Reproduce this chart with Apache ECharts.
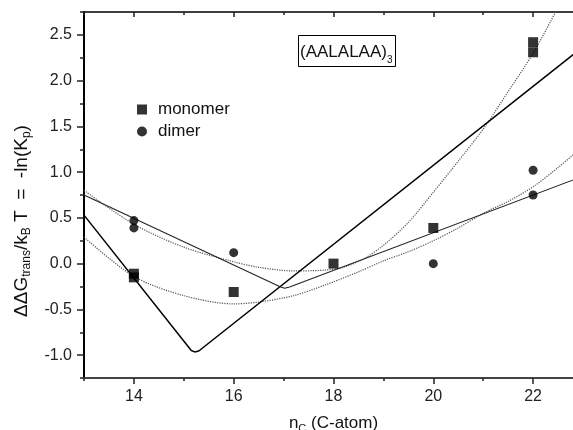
<!DOCTYPE html>
<html>
<head>
<meta charset="utf-8">
<script src="https://cdn.jsdelivr.net/npm/echarts@6.0.0/dist/echarts.min.js"></script>
<style>
  html, body { margin: 0; padding: 0; background: #fff; }
  #chart { width: 573px; height: 430px; }
</style>
</head>
<body>
<div id="chart"></div>
<script>
  // measured points
  var monoX = [14, 14, 16, 18, 20, 22, 22];
  var monoY = [-0.11, -0.15, -0.31, 0.0, 0.39, 2.42, 2.31];
  var dimerX = [14, 14, 16, 20, 22, 22];
  var dimerY = [0.47, 0.39, 0.12, 0.0, 1.02, 0.75];

  // solid V-shaped fits
  var monoFitX = [13, 15.15, 15.22, 15.3, 23];
  var monoFitY = [0.53, -0.95, -0.965, -0.955, 2.37];
  var dimerFitX = [13, 16.92, 17.02, 17.12, 23];
  var dimerFitY = [0.75, -0.25, -0.27, -0.255, 0.955];

  // dotted fits
  var curveAX = [13, 14, 15, 16, 16.5, 17.2, 17.85, 18.2, 18.6, 19, 19.5, 20, 20.5, 21, 21.5, 22, 22.5, 22.8];
  var curveAY = [0.80, 0.43, 0.18, 0.02, -0.04, -0.08, -0.07, -0.04, 0.05, 0.20, 0.45, 0.78, 1.12, 1.47, 1.88, 2.30, 2.80, 3.10];
  var curveBX = [13, 14, 15, 16, 16.5, 17.2, 17.85, 18.5, 19, 19.5, 20, 20.5, 21, 21.5, 22, 22.5, 23];
  var curveBY = [0.29, -0.14, -0.35, -0.44, -0.42, -0.35, -0.23, -0.09, 0.03, 0.13, 0.25, 0.39, 0.55, 0.68, 0.84, 1.05, 1.28];

  // ticks
  var xMajor = [14, 16, 18, 20, 22];
  var xMinor = [13, 15, 17, 19, 21, 23];
  var yMajor = [-1.0, -0.5, 0.0, 0.5, 1.0, 1.5, 2.0, 2.5];
  var yMinor = [-1.25, -0.75, -0.25, 0.25, 0.75, 1.25, 1.75, 2.25, 2.75];

  function pairs(xs, ys) {
    return xs.map(function (x, i) { return [x, ys[i]]; });
  }

  var FONT = 'Liberation Sans, Arial, sans-serif';
  var myChart = echarts.init(document.getElementById('chart'));

  function xAxisDef(pos, ticks, len, inside, showLine, showLabel) {
    return {
      type: 'value', position: pos, min: 13, max: 23,
      axisLine: { show: showLine, onZero: false, lineStyle: { color: pos === 'bottom' ? '#444' : '#000', width: pos === 'bottom' ? 2 : 1.5 } },
      axisTick: { show: true, inside: inside, length: len, customValues: ticks, lineStyle: { color: '#222', width: 1.5 } },
      axisLabel: showLabel
        ? { show: true, customValues: ticks, fontSize: 16, color: '#222', fontFamily: FONT, margin: 11 }
        : { show: false },
      splitLine: { show: false },
      name: pos === 'bottom' && showLabel ? 'n{sub|C} (C-atom)' : '',
      nameLocation: 'middle',
      nameGap: 35,
      nameTextStyle: {
        fontSize: 17, color: '#111', fontFamily: FONT,
        rich: { sub: { fontSize: 11, fontFamily: FONT, color: '#111', padding: [10, 0, 0, 0] } }
      }
    };
  }

  function yAxisDef(ticks, len, showLine, showLabel) {
    return {
      type: 'value', position: 'left', min: -1.25, max: 2.75,
      axisLine: { show: showLine, onZero: false, lineStyle: { color: '#000', width: 2 } },
      axisTick: { show: true, inside: false, length: len, customValues: ticks, lineStyle: { color: '#222', width: 1.5 } },
      axisLabel: showLabel
        ? { show: true, customValues: ticks, fontSize: 16, color: '#222', fontFamily: FONT, margin: 12,
            formatter: function (v) { return v.toFixed(1); } }
        : { show: false },
      splitLine: { show: false }
    };
  }

  myChart.setOption({
    animation: false,
    backgroundColor: '#fff',
    grid: { left: 84, top: 12, right: -10, bottom: 52, outerBoundsMode: 'none', containLabel: false },
    title: {
      text: '(AALALAA){s|3}',
      left: 298, top: 35,
      padding: [4, 3, 2, 2],
      borderColor: '#000', borderWidth: 1,
      textStyle: {
        fontSize: 17, fontWeight: 'normal', color: '#111', fontFamily: FONT, lineHeight: 26,
        rich: { s: { fontSize: 10, fontFamily: FONT, color: '#111', lineHeight: 12, verticalAlign: 'bottom' } }
      }
    },
    legend: {
      orient: 'vertical', left: 132, top: 96,
      itemWidth: 10, itemHeight: 10, itemGap: 5,
      textStyle: { fontSize: 17, color: '#111', fontFamily: FONT, padding: [0, 0, 0, 6] },
      data: [{ name: 'monomer', icon: 'rect' }, { name: 'dimer', icon: 'circle' }]
    },
    graphic: [{
      type: 'text', x: 22, y: 221, rotation: Math.PI / 2,
      style: {
        text: 'ΔΔG{sub|trans}/k{sub|B} T  =  -ln(K{sub|p})',
        fontSize: 19, fontFamily: FONT, fill: '#111',
        align: 'center', verticalAlign: 'middle',
        rich: { sub: { fontSize: 12, fontFamily: FONT, fill: '#111', padding: [10, 0, 0, 0] } }
      }
    }],
    xAxis: [
      xAxisDef('bottom', xMajor, 6, false, true, true),
      xAxisDef('bottom', xMinor, 3, false, false, false),
      xAxisDef('top', xMajor, 5, true, true, false),
      xAxisDef('top', xMinor, 3, true, false, false)
    ],
    yAxis: [
      yAxisDef(yMajor, 7, true, true),
      yAxisDef(yMinor, 4, false, false)
    ],
    series: [
      {
        name: 'monomer fit', type: 'line', data: pairs(monoFitX, monoFitY),
        showSymbol: false, lineStyle: { color: '#000', width: 1.5 }, z: 2
      },
      {
        name: 'dimer fit', type: 'line', data: pairs(dimerFitX, dimerFitY),
        showSymbol: false, lineStyle: { color: '#222', width: 1.1 }, z: 2
      },
      {
        name: 'curve A', type: 'line', data: pairs(curveAX, curveAY), smooth: 0.3,
        showSymbol: false, lineStyle: { color: '#555', width: 1.2, type: 'dotted' }, z: 1
      },
      {
        name: 'curve B', type: 'line', data: pairs(curveBX, curveBY), smooth: 0.3,
        showSymbol: false, lineStyle: { color: '#555', width: 1.2, type: 'dotted' }, z: 1
      },
      {
        name: 'monomer', type: 'scatter', data: pairs(monoX, monoY),
        symbol: 'rect', symbolSize: 10, itemStyle: { color: '#000' }, z: 3
      },
      {
        name: 'dimer', type: 'scatter', data: pairs(dimerX, dimerY),
        symbol: 'circle', symbolSize: 9, itemStyle: { color: '#000' }, z: 3
      }
    ]
  });
</script>
</body>
</html>
